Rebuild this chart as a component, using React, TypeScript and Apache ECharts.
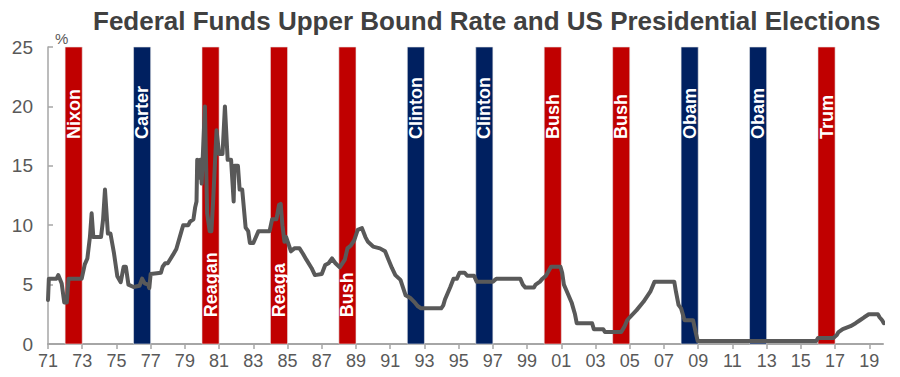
import React, { useEffect, useRef } from "react";
import * as echarts from "echarts";

const TITLE = "Federal Funds Upper Bound Rate and US Presidential Elections";

// Fed funds rate: [year (decimal), percent]
const RATE_YEARS = [
  1971.0, 1971.05, 1971.5, 1971.6, 1971.8, 1971.95, 1972.1, 1972.2, 1972.97, 1973.15,
  1973.3, 1973.45, 1973.55, 1973.65, 1974.1, 1974.22, 1974.33, 1974.5, 1974.65, 1974.85,
  1975.05, 1975.25, 1975.42, 1975.55, 1975.7, 1976.0, 1976.35, 1976.5, 1976.65, 1976.85,
  1976.92, 1977.0, 1977.6, 1977.7, 1977.85, 1978.0, 1978.3, 1978.5, 1978.8, 1978.9,
  1979.2, 1979.3, 1979.5, 1979.6, 1979.68, 1979.72, 1979.85, 1979.9, 1979.98, 1980.17,
  1980.3, 1980.45, 1980.55, 1980.65, 1980.75, 1980.85, 1981.0, 1981.2, 1981.34, 1981.5,
  1981.7, 1981.85, 1981.9, 1982.1, 1982.2, 1982.35, 1982.55, 1982.7, 1982.8, 1983.0,
  1983.3, 1983.95, 1984.1, 1984.35, 1984.5, 1984.6, 1984.7, 1984.82, 1984.92, 1985.2,
  1985.4, 1985.7, 1985.9, 1986.1, 1986.4, 1986.6, 1987.0, 1987.2, 1987.4, 1987.6,
  1987.8, 1988.05, 1988.35, 1988.5, 1988.7, 1988.9, 1989.1, 1989.35, 1989.55, 1989.7,
  1990.0, 1990.4, 1990.7, 1990.9, 1991.1, 1991.3, 1991.6, 1991.9, 1992.2, 1992.4,
  1992.6, 1992.8, 1993.98, 1994.1, 1994.2, 1994.35, 1994.5, 1994.7, 1994.9, 1995.05,
  1995.35, 1995.5, 1995.9, 1996.05, 1997.0, 1997.2, 1998.6, 1998.75, 1998.9, 1999.4,
  1999.5, 1999.75, 1999.9, 2000.1, 2000.2, 2000.4, 2000.95, 2001.05, 2001.15, 2001.3,
  2001.45, 2001.6, 2001.7, 2001.8, 2001.9, 2002.8, 2002.9, 2003.45, 2003.55, 2004.5,
  2004.6, 2004.7, 2004.85, 2005.0, 2005.4, 2005.8, 2006.2, 2006.45, 2007.6, 2007.7,
  2007.85, 2008.0, 2008.2, 2008.7, 2008.85, 2008.97, 2015.9, 2016.0, 2016.9, 2017.1,
  2017.2, 2017.45, 2017.9, 2018.2, 2018.45, 2018.7, 2018.97, 2019.5, 2019.6, 2019.75,
  2019.85,
];
const RATE_VALUES = [
  3.7, 5.5, 5.5, 5.8, 5.1, 3.5, 3.5, 5.5, 5.5, 6.7,
  7.2, 9.0, 11.0, 9.0, 9.0, 10.5, 13.0, 9.3, 9.3, 7.7,
  5.7, 5.2, 6.5, 6.5, 5.0, 4.8, 4.9, 5.5, 5.1, 5.0,
  4.7, 5.9, 6.0, 6.5, 6.8, 6.8, 7.5, 8.0, 9.5, 10.0,
  10.0, 10.3, 10.5, 11.5, 12.0, 15.5, 14.0, 15.5, 13.5, 20.0,
  11.0, 9.5, 9.5, 12.0, 15.0, 18.0, 16.0, 16.0, 20.0, 15.5,
  15.5, 12.0, 15.0, 15.0, 13.0, 13.0, 9.8, 9.5, 8.5, 8.5,
  9.5, 9.5, 10.5, 10.5, 11.7, 11.8, 10.0, 8.6, 9.0, 7.8,
  8.05, 8.05, 7.6, 7.1, 6.4, 5.8, 5.9, 6.65, 6.8, 7.2,
  6.8, 6.45, 7.1, 8.05, 8.3, 8.75, 9.6, 9.75, 9.0, 8.6,
  8.2, 8.05, 7.8, 7.1, 6.4, 5.8, 5.4, 4.1, 3.85, 3.55,
  3.2, 3.0, 3.0, 3.25, 3.75, 4.25, 4.75, 5.5, 5.5, 6.0,
  6.0, 5.75, 5.75, 5.25, 5.25, 5.5, 5.5, 5.0, 4.75, 4.75,
  5.0, 5.25, 5.5, 5.75, 6.0, 6.5, 6.5, 6.0, 5.0, 4.5,
  4.0, 3.5, 3.0, 2.5, 1.75, 1.75, 1.25, 1.25, 1.0, 1.0,
  1.25, 1.5, 2.0, 2.25, 2.85, 3.55, 4.4, 5.25, 5.25, 4.4,
  3.3, 3.0, 2.0, 2.0, 1.0, 0.25, 0.25, 0.5, 0.5, 0.75,
  1.0, 1.25, 1.5, 1.75, 2.0, 2.25, 2.5, 2.5, 2.25, 2.0,
  1.75,
];

// Election years, winners (labels as shown), party, label placement
const ELECTION_YEARS = [1972, 1976, 1980, 1984, 1988, 1992, 1996, 2000, 2004, 2008, 2012, 2016];
const ELECTION_LABELS = ["Nixon", "Carter", "Reagan", "Reaga", "Bush", "Clinton", "Clinton", "Bush", "Bush", "Obam", "Obam", "Trum"];
const ELECTION_PARTY = ["R", "D", "R", "R", "R", "D", "D", "R", "R", "D", "D", "R"];
const ELECTION_LABEL_POS = ["top", "top", "bottom", "bottom", "bottom", "top", "top", "top", "top", "top", "top", "top"];

const X_TICK_YEARS = [1971, 1973, 1975, 1977, 1979, 1981, 1983, 1985, 1987, 1989, 1991, 1993, 1995, 1997, 1999, 2001, 2003, 2005, 2007, 2009, 2011, 2013, 2015, 2017, 2019];

const FONT = "'Liberation Sans', Arial, Helvetica, sans-serif";
const RED = "#C00000";
const NAVY = "#002060";
const TEXT_GRAY = "#595959";

export default function App() {
  const ref = useRef<HTMLDivElement>(null);

  useEffect(() => {
    if (!ref.current) return;
    const chart = echarts.init(ref.current, null, { renderer: "svg" });

    const lineData = RATE_YEARS.map((y, i) => [y, RATE_VALUES[i]]);
    const barData = ELECTION_YEARS.map((y, i) => [y, y + 1, i]);

    const option: any = {
      animation: false,
      backgroundColor: "#ffffff",
      title: {
        text: TITLE,
        left: 88,
        top: 3,
        textStyle: { fontFamily: FONT, fontSize: 26, fontWeight: "bold", color: "#404040" },
      },
      grid: { left: 48, right: 17, top: 47, bottom: 33, containLabel: false },
      xAxis: {
        type: "value",
        min: 1971,
        max: 2019.8,
        interval: 2,
        splitLine: { show: false },
        axisLine: { show: true, lineStyle: { color: "#A6A6A6", width: 2 } },
        axisTick: { show: true, length: 5, lineStyle: { color: "#A6A6A6", width: 1.5 }, customValues: X_TICK_YEARS },
        axisLabel: {
          customValues: X_TICK_YEARS,
          color: TEXT_GRAY,
          fontFamily: FONT,
          fontSize: 18,
          margin: 8,
          formatter: (v: number) => String(Math.round(v) % 100).padStart(2, "0"),
        },
      },
      yAxis: {
        type: "value",
        min: 0,
        max: 25,
        interval: 5,
        name: "%",
        nameLocation: "end",
        nameGap: 1,
        nameTextStyle: { color: TEXT_GRAY, fontFamily: FONT, fontSize: 15, align: "left", padding: [0, 0, 0, 7] },
        splitLine: { show: false },
        axisLine: { show: true, lineStyle: { color: "#A6A6A6", width: 1.5 } },
        axisTick: { show: true, inside: true, length: 5, lineStyle: { color: "#A6A6A6", width: 1.5 } },
        axisLabel: { color: TEXT_GRAY, fontFamily: FONT, fontSize: 19, margin: 15 },
      },
      series: [
        {
          type: "custom",
          z: 1,
          silent: true,
          data: barData,
          encode: { x: [0, 1] },
          renderItem: (params: any, api: any) => {
            const start = api.value(0);
            const end = api.value(1);
            const idx = api.value(2);
            const p0 = api.coord([start, 25]);
            const p1 = api.coord([end, 0]);
            const color = ELECTION_PARTY[idx] === "R" ? RED : NAVY;
            const cx = (p0[0] + p1[0]) / 2;
            const labelY = api.coord([start, ELECTION_LABEL_POS[idx] === "top" ? 17.25 : 2.25])[1];
            return {
              type: "group",
              children: [
                {
                  type: "rect",
                  shape: { x: p0[0], y: p0[1], width: p1[0] - p0[0], height: p1[1] - p0[1] },
                  style: { fill: color, stroke: "#E6E6E6", lineWidth: 0.6 },
                },
                {
                  type: "text",
                  x: cx,
                  y: labelY,
                  rotation: Math.PI / 2,
                  style: {
                    text: ELECTION_LABELS[idx],
                    fill: "#ffffff",
                    font: `bold 18px ${FONT}`,
                    align: "left",
                    verticalAlign: "middle",
                  },
                },
              ],
            };
          },
        },
        {
          type: "line",
          z: 3,
          data: lineData,
          showSymbol: false,
          symbol: "none",
          lineStyle: { color: "#595959", width: 4, join: "round", cap: "round" },
        },
      ],
    };

    chart.setOption(option);
    return () => chart.dispose();
  }, []);

  return (
    <div
      ref={ref}
      style={{ position: "fixed", left: 0, top: 0, width: 900, height: 377, background: "#fff" }}
    />
  );
}
